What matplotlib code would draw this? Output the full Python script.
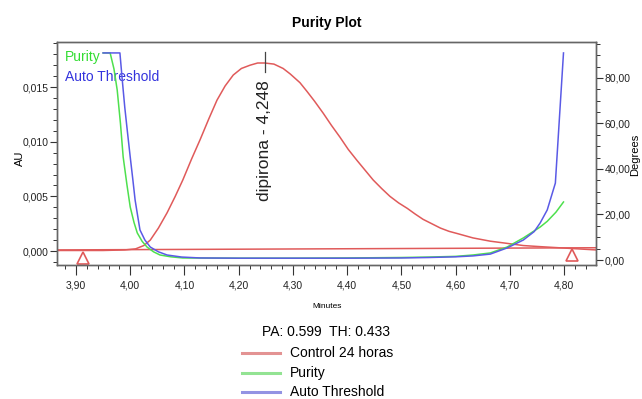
import matplotlib
matplotlib.use("Agg")
import matplotlib.pyplot as plt
from matplotlib.ticker import MultipleLocator, FuncFormatter

plt.rcParams['font.family'] = ['Liberation Sans', 'DejaVu Sans']

# ---- data ----
red_t = [3.865, 3.95, 3.99, 4.010, 4.025, 4.037, 4.052, 4.068, 4.083, 4.097, 4.113, 4.129,
         4.145, 4.160, 4.175, 4.190, 4.205, 4.221, 4.235, 4.248, 4.265, 4.282, 4.295,
         4.313, 4.326, 4.340, 4.356, 4.371, 4.387, 4.402, 4.418, 4.433, 4.448, 4.464,
         4.479, 4.495, 4.511, 4.525, 4.540, 4.556, 4.572, 4.588, 4.603, 4.632, 4.664,
         4.695, 4.725, 4.756, 4.79, 4.825, 4.859]
red_au = [0.00005, 0.00005, 0.0001, 0.0002, 0.0005, 0.0010, 0.0021, 0.0035, 0.0050, 0.0065,
          0.0084, 0.0102, 0.0121, 0.0138, 0.0151, 0.0161, 0.0167, 0.0170, 0.0172, 0.0172,
          0.0171, 0.0167, 0.0162, 0.0154, 0.0146, 0.0137, 0.0126, 0.0115, 0.0104, 0.0093,
          0.0083, 0.0074, 0.0065, 0.0057, 0.0050, 0.0044, 0.0039, 0.0034, 0.0029, 0.0025,
          0.0021, 0.0018, 0.0016, 0.0012, 0.0009, 0.0007, 0.0005, 0.0004, 0.0003, 0.0002,
          0.0001]
base_t = [3.865, 4.859]
base_au = [0.0001, 0.0003]
tri_t = [3.913, 4.815]
tri_au = [-0.00064, -0.00040]

purity_t = [3.950, 3.963, 3.970, 3.976, 3.982, 3.987, 3.994, 4.000, 4.007, 4.013, 4.022,
            4.031, 4.043, 4.055, 4.075, 4.097, 4.20, 4.30, 4.40, 4.50, 4.55, 4.60, 4.632,
            4.664, 4.695, 4.725, 4.756, 4.769, 4.785, 4.799]
purity_deg = [91, 91, 84, 74.7, 60, 45.3, 33, 23.3, 16.5, 11.9, 8.2, 5.7, 3.6, 2.2, 1.4,
              0.9, 0.8, 0.8, 0.9, 1.1, 1.3, 1.6, 2.2, 3.1, 5.7, 9.7, 14.5, 17, 21, 25.5]
thr_t = [3.950, 3.981, 3.985, 3.990, 3.995, 4.000, 4.005, 4.009, 4.014, 4.018, 4.027,
         4.037, 4.052, 4.068, 4.095, 4.129, 4.20, 4.30, 4.40, 4.50, 4.55, 4.60, 4.632,
         4.664, 4.695, 4.725, 4.745, 4.756, 4.769, 4.784, 4.799]
thr_deg = [91, 91, 80, 67, 56, 45.3, 35, 26.4, 19, 13.2, 8.8, 5.7, 3.6, 2.2, 1.3, 0.9, 0.8,
           0.8, 0.8, 0.9, 1.1, 1.4, 1.8, 2.6, 5.3, 8.8, 12.5, 16.3, 22, 33.8, 91]

peak_t = 4.248
peak_label = "dipirona - 4,248"
pa_th_text = "PA: 0.599  TH: 0.433"
legend_labels = ["Control 24 horas", "Purity", "Auto Threshold"]

c_red = "#e05a5a"
c_green = "#4ee04e"
c_blue = "#5a5ae6"

fig = plt.figure(figsize=(6.42, 3.99), dpi=100)
ax = fig.add_axes([0.0888, 0.3358, 0.8396, 0.5589])
ax2 = ax.twinx()

ax.plot(red_t, red_au, color=c_red, lw=1.1, solid_joinstyle='round')
ax.plot(base_t, base_au, color=c_red, lw=1.1)
ax.plot(tri_t, tri_au, linestyle='none', marker='^', ms=8.5, mfc='white', mec=c_red, mew=1.2)
ax.plot([peak_t, peak_t], [0.0182, 0.0164], color='#444444', lw=0.9)
ax.text(peak_t, 0.01565, peak_label, rotation=90, ha='center', va='top', fontsize=12.5,
        color='#222222')

ax2.plot(purity_t, purity_deg, color=c_green, lw=1.1, solid_joinstyle='round')
ax2.plot(thr_t, thr_deg, color=c_blue, lw=1.1, solid_joinstyle='round')

ax.set_xlim(3.865, 4.859)
ax.set_ylim(-0.00128, 0.01912)
ax2.set_ylim(-2.2, 95.8)

comma = lambda fmt: FuncFormatter(lambda v, p: (fmt % v).replace('.', ','))
ax.xaxis.set_major_locator(MultipleLocator(0.1))
ax.xaxis.set_minor_locator(MultipleLocator(0.02))
ax.xaxis.set_major_formatter(comma('%.2f'))
ax.yaxis.set_major_locator(MultipleLocator(0.005))
ax.yaxis.set_minor_locator(MultipleLocator(0.001))
ax.yaxis.set_major_formatter(comma('%.3f'))
ax2.yaxis.set_major_locator(MultipleLocator(20))
ax2.yaxis.set_minor_locator(MultipleLocator(5))
ax2.yaxis.set_major_formatter(comma('%.2f'))

for a in (ax, ax2):
    a.tick_params(which='major', length=5, width=0.8, labelsize=7.5, pad=1, colors='#333333')
    a.tick_params(which='minor', length=3, width=0.7, colors='#333333')
    for s in a.spines.values():
        s.set_color('#666666')
        s.set_linewidth(1.0)
ax.tick_params(axis='x', which='both', pad=4)
ax.tick_params(axis='x', which='major', length=7)
ax2.tick_params(axis='y', labelcolor='#222222')
ax.tick_params(axis='both', labelcolor='#222222')

fig.text(327 / 642, 1 - 306 / 399, "Minutes", ha='center', va='center', fontsize=6)
fig.text(20 / 642, 1 - 158 / 399, "AU", rotation=90, ha='center', va='center', fontsize=8)
fig.text(635 / 642, 1 - 155 / 399, "Degrees", rotation=90, ha='center', va='center',
         fontsize=8)

fig.text(327 / 642, 1 - 23 / 399, "Purity Plot", ha='center', va='center', fontsize=10,
         fontweight='bold')

ax.text(0.015, 0.933, "Purity", transform=ax.transAxes, color='#33dd33', fontsize=10,
        ha='left', va='center')
ax.text(0.015, 0.843, "Auto Threshold", transform=ax.transAxes, color='#3333dd',
        fontsize=10, ha='left', va='center')

# bottom legend
fig.text(326 / 642, 1 - 332 / 399, pa_th_text, ha='center', va='center', fontsize=10)
leg_colors = ["#e39393", "#93e393", "#9393e3"]
for i, (lab, col) in enumerate(zip(legend_labels, leg_colors)):
    yy = 1 - (353 + 19.5 * i) / 399
    fig.add_artist(plt.Line2D([242 / 642, 280 / 642], [yy, yy], color=col, lw=2.2))
    fig.text(290 / 642, yy, lab, ha='left', va='center', fontsize=10)

fig.savefig("out.png", dpi=100)
